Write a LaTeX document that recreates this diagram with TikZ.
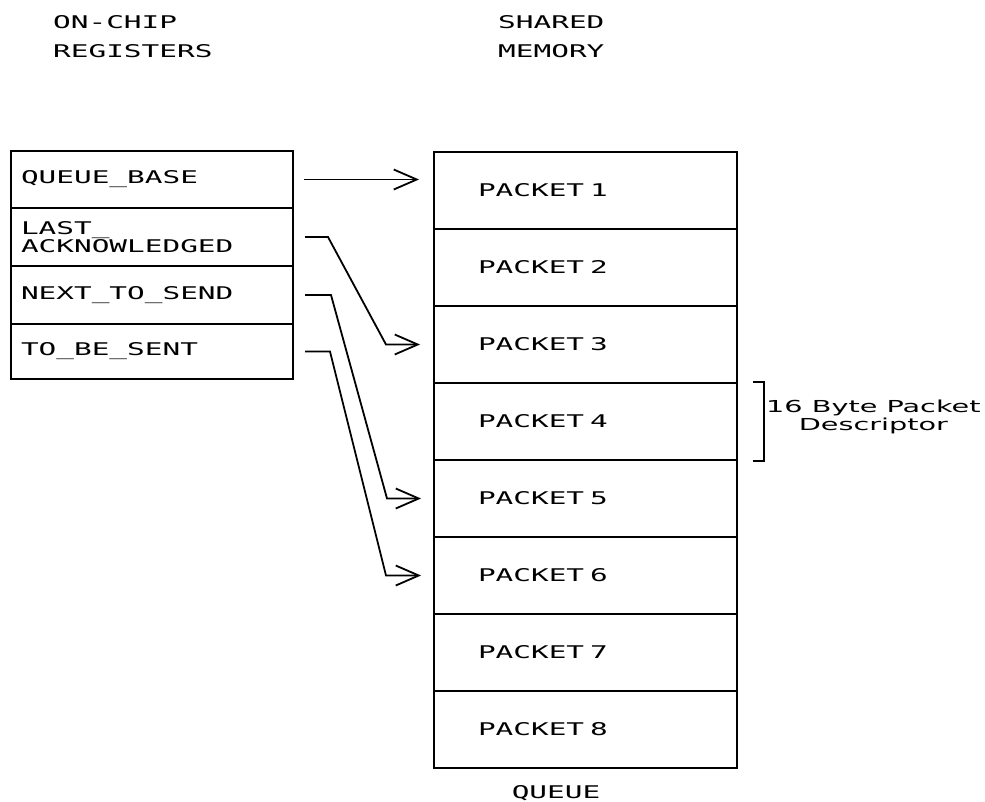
\documentclass[tikz,border=0pt]{standalone}
\usepackage{fontspec}
\usetikzlibrary{arrows.meta}
% plotter-style lettering: wide monospaced capitals
\newfontfamily\plotter[FakeStretch=1.68]{DejaVu Sans Mono}
\newfontfamily\plotterlc[FakeStretch=1.74]{DejaVu Sans}
\newcommand\capsfont{\plotter\fontsize{17.5}{19}\selectfont}
\newcommand\notefont{\plotterlc\fontsize{16.5}{18}\selectfont}
\tikzset{
  regbox/.style={draw, line width=2pt, minimum width=282pt, text width=262pt,
    align=left, inner xsep=10pt, inner ysep=0pt, anchor=north west, font=\capsfont},
  pktbox/.style={draw, line width=2pt, minimum width=303pt, minimum height=77pt,
    text width=215pt, align=left, inner xsep=44pt, inner ysep=0pt,
    anchor=north west, font=\capsfont},
  heading/.style={anchor=base west, inner sep=0pt, font=\capsfont},
  ptr/.style={line width=1.8pt, -{Straight Barb[length=23pt,width=20pt]}},
}
\begin{document}
\begin{tikzpicture}[x=1pt,y=-1pt]
\useasboundingbox (0,0) rectangle (985,801);

% column headings
\node[heading] (onchip) at (53,28) {ON-CHIP};
\node[heading] (regs)   at (53,57) {REGISTERS};
\node[heading] (shared) at (498,28) {SHARED};
\node[heading] (mem)    at (498,57) {MEMORY};

% on-chip register file
\node[regbox, minimum height=57pt] (qb) at (10,150) {QUEUE\_BASE};
\node[regbox, minimum height=58pt] (la) at (10,207) {LAST\_\\[-1pt]ACKNOWLEDGED};
\node[regbox, minimum height=58pt] (ns) at (10,265) {NEXT\_TO\_SEND};
\node[regbox, minimum height=55pt] (tb) at (10,323) {TO\_BE\_SENT};

% packet queue in shared memory
\foreach \i in {1,...,8}
  \node[pktbox] (p\i) at (433,{151+77*(\i-1)}) {PACKET \i};
\node[anchor=base, inner sep=0pt, font=\capsfont] (queue) at (556,798) {QUEUE};

% descriptor size bracket
\draw[line width=1.8pt] ([xshift=15pt]p4.north east) -- ([xshift=26pt]p4.north east)
  -- ([xshift=26pt]p4.south east) -- ([xshift=15pt]p4.south east);
\node[anchor=west, inner sep=0pt, align=center, font=\notefont] (desc) at (766,417)
  {16 Byte Packet\\Descriptor};

% register pointers into the queue
\coordinate (qbend) at (qb.east -| p1.west);
\draw[ptr] ([xshift=10pt]qb.east) -- ([xshift=-14pt]qbend);
\draw[ptr] ([xshift=11pt]la.east) -- ++(23,0) -- ([xshift=-47pt]p3.west) -- ([xshift=-13pt]p3.west);
\draw[ptr] ([xshift=11pt]ns.east) -- ++(26,0) -- ([xshift=-46pt]p5.west) -- ([xshift=-12pt]p5.west);
\draw[ptr] ([xshift=11pt]tb.east) -- ++(25,0) -- ([xshift=-47pt]p6.west) -- ([xshift=-12pt]p6.west);
\end{tikzpicture}
\end{document}
